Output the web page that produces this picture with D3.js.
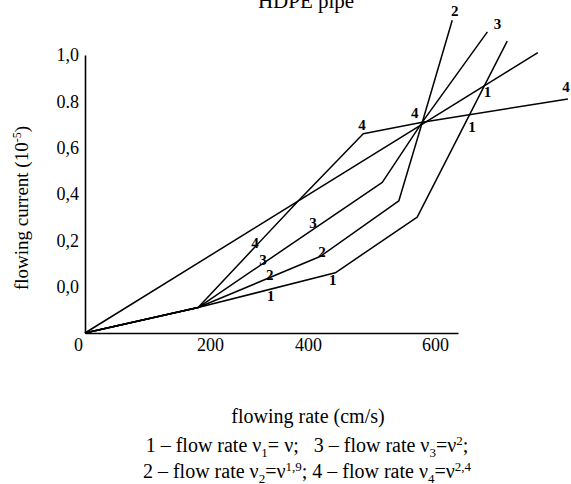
<!DOCTYPE html>
<html><head><meta charset="utf-8">
<script src="https://cdn.jsdelivr.net/npm/d3@7"></script>
<style>
body{margin:0;background:#fff}
svg{display:block;background:#fff}
text{font-family:"Liberation Serif","Times New Roman",serif;fill:#000}
</style>
</head><body>
<svg id="c" width="571" height="484"></svg>
<script>
// ---- data ----
const title = "HDPE pipe";
const xTicks = [0, 200, 400, 600];
const xTickLabels = ["0", "200", "400", "600"];
const yTicks = [0, 0.2, 0.4, 0.6, 0.8, 1.0];
const yTickLabels = ["0,0", "0,2", "0,4", "0,6", "0.8", "1,0"];
const xTitle = "flowing rate (cm/s)";

// flowing rate (cm/s), flowing current (10^-5)
const series1 = [[0, -0.2], [181, -0.09], [443, 0.06], [572, 0.30], [713, 1.06]];
const series2 = [[0, -0.2], [181, -0.09], [419, 0.13], [543, 0.37], [580, 0.71], [627, 1.15]];
const series3 = [[0, -0.2], [181, -0.09], [517, 0.45], [580, 0.71], [682, 1.10]];
const series4 = [[0, -0.2], [181, -0.09], [380, 0.37], [487, 0.66], [580, 0.71], [808, 0.81]];
const refLine = [[0, -0.2], [761, 1.01]];

// curve number marks placed along the curves (data units)
const marks1 = [[324, -0.04], [439, 0.03], [658, 0.69], [682, 0.84]];
const marks2 = [[322, 0.05], [422, 0.15], [631, 1.19]];
const marks3 = [[308, 0.115], [408, 0.275], [698, 1.135]];
const marks4 = [[292, 0.19], [485, 0.70], [568, 0.75], [805, 0.86]];

// ---- drawing ----
const svg = d3.select("#c");
const x = d3.scaleLinear().domain([0, 200, 400, 600, 636]).range([85, 210, 308, 435, 458]);
const y = d3.scaleLinear().domain([-0.2, 1.0]).range([333, 55]);

svg.append("text").attr("x", 306).attr("y", 8).attr("text-anchor", "middle")
  .style("font-size", "21px").text(title);

const gx = svg.append("g").attr("transform", `translate(0,${y(-0.2)})`)
  .call(d3.axisBottom(x).tickValues(xTicks).tickSize(0).tickSizeOuter(0).tickPadding(5)
    .tickFormat((d, i) => xTickLabels[i]));
gx.select(".domain").attr("stroke", "#000").attr("stroke-width", 1.6);
gx.selectAll("text").style("font-size", "18px").style("font-family", '"Liberation Serif",serif')
  .attr("dx", (d, i) => i === 0 ? -7 : 0);

const gy = svg.append("g").attr("transform", `translate(${x(0)},0)`)
  .call(d3.axisLeft(y).tickValues(yTicks).tickSize(0).tickSizeOuter(0).tickPadding(6)
    .tickFormat((d, i) => yTickLabels[i]));
gy.select(".domain").attr("stroke", "#000").attr("stroke-width", 1.6);
gy.selectAll("text").style("font-size", "18px").style("font-family", '"Liberation Serif",serif');

const line = d3.line().x(d => x(d[0])).y(d => y(d[1]));
[series1, series2, series3, series4, refLine].forEach(s => {
  svg.append("path").attr("d", line(s)).attr("fill", "none")
    .attr("stroke", "#000").attr("stroke-width", 1.5).attr("stroke-linejoin", "round");
});

[["1", marks1], ["2", marks2], ["3", marks3], ["4", marks4]].forEach(([lab, ms]) => {
  ms.forEach(m => {
    svg.append("text").attr("x", x(m[0])).attr("y", y(m[1]))
      .attr("text-anchor", "middle").attr("dominant-baseline", "central")
      .style("font-size", "15px").style("font-weight", "bold").text(lab);
  });
});

// y title
const yt = svg.append("text").attr("transform", "translate(28,208) rotate(-90)")
  .attr("text-anchor", "middle").style("font-size", "19px");
yt.append("tspan").text("flowing current (10");
yt.append("tspan").attr("dy", -7).style("font-size", "12px").text("-5");
yt.append("tspan").attr("dy", 7).text(")");

// x title
svg.append("text").attr("x", 308).attr("y", 423).attr("text-anchor", "middle")
  .style("font-size", "20px").text(xTitle);

// legend
const legend1 = [["1 – flow rate ν", 0], ["1", 1], ["= ν;\u00A0\u00A0\u00A03 – flow rate ν", 0], ["3", 1], ["=ν", 0], ["2", -1], [";", 0]];
const legend2 = [["2 – flow rate ν", 0], ["2", 1], ["=ν", 0], ["1,9", -1], ["; 4 – flow rate ν", 0], ["4", 1], ["=ν", 0], ["2,4", -1]];
function legendLine(parts, yy) {
  const t = svg.append("text").attr("x", 307).attr("y", yy).attr("text-anchor", "middle").style("font-size", "20px");
  let cur = 0;
  parts.forEach(([s, k]) => {
    const target = k === 1 ? 5 : (k === -1 ? -7 : 0);
    const ts = t.append("tspan").attr("dy", target - cur).text(s);
    if (k !== 0) ts.style("font-size", "13px");
    cur = target;
  });
}
legendLine(legend1, 452);
legendLine(legend2, 478);
</script>
</body></html>
